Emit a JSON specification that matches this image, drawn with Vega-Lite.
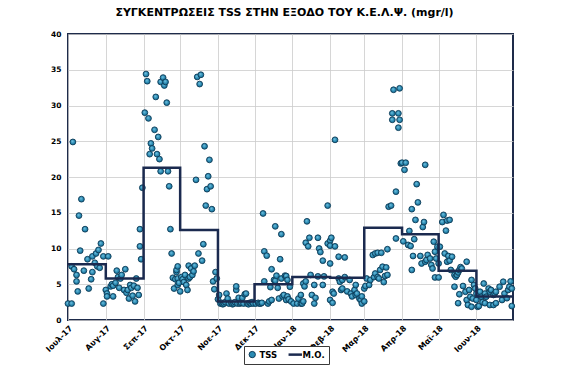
{
  "$schema": "https://vega.github.io/schema/vega-lite/v6.json",
  "width": 445,
  "height": 286,
  "autosize": {"type": "none"},
  "padding": {"left": 68, "top": 34, "right": 53, "bottom": 50},
  "background": "#ffffff",
  "title": {
    "text": "ΣΥΓΚΕΝΤΡΩΣΕΙΣ TSS ΣΤΗΝ ΕΞΟΔΟ ΤΟΥ Κ.Ε.Λ.Ψ. (mgr/l)",
    "font": "DejaVu Sans",
    "fontSize": 11,
    "fontWeight": "bold",
    "color": "#000000",
    "anchor": "middle",
    "offset": 12,
    "dx": -6
  },
  "config": {
    "view": {"stroke": "#1e2b4a", "strokeWidth": 2},
    "axis": {
      "labelFont": "DejaVu Sans",
      "labelFontSize": 7.5,
      "labelFontWeight": "bold",
      "labelColor": "#000000",
      "gridColor": "#cccccc",
      "gridWidth": 0.8,
      "domain": false,
      "ticks": false,
      "title": null
    },
    "legend": {
      "orient": "none",
      "legendX": 176,
      "legendY": 312,
      "direction": "horizontal",
      "strokeColor": "#3a3a3a",
      "fillColor": "#ffffff",
      "padding": 4,
      "labelFont": "DejaVu Sans",
      "labelFontSize": 8.5,
      "labelFontWeight": "bold",
      "labelColor": "#000000",
      "labelOffset": 3,
      "columnPadding": 5
    }
  },
  "datasets": {
    "tss": [
      {"date": "2017-07-01", "tss": 2.3}, {"date": "2017-07-04", "tss": 2.3}, {"date": "2017-07-05", "tss": 24.9},
      {"date": "2017-07-04", "tss": 7.5}, {"date": "2017-07-06", "tss": 7.1}, {"date": "2017-07-08", "tss": 6.3},
      {"date": "2017-07-08", "tss": 5.4}, {"date": "2017-07-09", "tss": 4.0}, {"date": "2017-07-10", "tss": 14.6},
      {"date": "2017-07-11", "tss": 9.7}, {"date": "2017-07-12", "tss": 16.9}, {"date": "2017-07-14", "tss": 6.9},
      {"date": "2017-07-15", "tss": 12.7}, {"date": "2017-07-17", "tss": 8.5}, {"date": "2017-07-18", "tss": 4.4},
      {"date": "2017-07-20", "tss": 5.7}, {"date": "2017-07-21", "tss": 6.7}, {"date": "2017-07-21", "tss": 8.9},
      {"date": "2017-07-23", "tss": 8.0}, {"date": "2017-07-24", "tss": 9.3}, {"date": "2017-07-25", "tss": 7.5},
      {"date": "2017-07-26", "tss": 9.8}, {"date": "2017-07-27", "tss": 7.3}, {"date": "2017-07-28", "tss": 10.7},
      {"date": "2017-07-30", "tss": 8.9}, {"date": "2017-07-30", "tss": 2.3},
      {"date": "2017-08-01", "tss": 4.2}, {"date": "2017-08-02", "tss": 3.7}, {"date": "2017-08-02", "tss": 3.3},
      {"date": "2017-08-03", "tss": 8.9}, {"date": "2017-08-05", "tss": 4.7}, {"date": "2017-08-06", "tss": 5.0},
      {"date": "2017-08-07", "tss": 3.3}, {"date": "2017-08-07", "tss": 4.8}, {"date": "2017-08-09", "tss": 5.2},
      {"date": "2017-08-10", "tss": 6.9}, {"date": "2017-08-11", "tss": 6.0}, {"date": "2017-08-12", "tss": 4.5},
      {"date": "2017-08-13", "tss": 5.8}, {"date": "2017-08-14", "tss": 6.3}, {"date": "2017-08-16", "tss": 4.2},
      {"date": "2017-08-17", "tss": 7.1}, {"date": "2017-08-18", "tss": 3.8}, {"date": "2017-08-19", "tss": 4.2},
      {"date": "2017-08-20", "tss": 3.0}, {"date": "2017-08-21", "tss": 4.9}, {"date": "2017-08-22", "tss": 4.5},
      {"date": "2017-08-23", "tss": 3.4}, {"date": "2017-08-24", "tss": 4.8}, {"date": "2017-08-25", "tss": 2.6},
      {"date": "2017-08-26", "tss": 5.8}, {"date": "2017-08-27", "tss": 4.5}, {"date": "2017-08-28", "tss": 3.5},
      {"date": "2017-08-29", "tss": 10.3}, {"date": "2017-08-29", "tss": 12.7}, {"date": "2017-08-30", "tss": 8.5},
      {"date": "2017-08-31", "tss": 18.5},
      {"date": "2017-09-02", "tss": 29.0}, {"date": "2017-09-03", "tss": 34.4}, {"date": "2017-09-04", "tss": 33.4},
      {"date": "2017-09-05", "tss": 28.2}, {"date": "2017-09-06", "tss": 23.2}, {"date": "2017-09-07", "tss": 24.7},
      {"date": "2017-09-08", "tss": 24.0}, {"date": "2017-09-10", "tss": 26.6}, {"date": "2017-09-11", "tss": 31.2},
      {"date": "2017-09-12", "tss": 23.2}, {"date": "2017-09-13", "tss": 25.6}, {"date": "2017-09-14", "tss": 22.5},
      {"date": "2017-09-15", "tss": 20.8}, {"date": "2017-09-15", "tss": 33.3}, {"date": "2017-09-17", "tss": 33.9},
      {"date": "2017-09-18", "tss": 32.8}, {"date": "2017-09-19", "tss": 33.3}, {"date": "2017-09-20", "tss": 30.4},
      {"date": "2017-09-21", "tss": 20.8}, {"date": "2017-09-22", "tss": 18.7}, {"date": "2017-09-23", "tss": 12.7},
      {"date": "2017-09-24", "tss": 9.3}, {"date": "2017-09-25", "tss": 5.9}, {"date": "2017-09-26", "tss": 4.4},
      {"date": "2017-09-27", "tss": 5.7}, {"date": "2017-09-28", "tss": 6.7}, {"date": "2017-09-28", "tss": 7.0},
      {"date": "2017-09-29", "tss": 7.5}, {"date": "2017-09-29", "tss": 4.9}, {"date": "2017-09-29", "tss": 5.8},
      {"date": "2017-09-30", "tss": 5.2},
      {"date": "2017-10-01", "tss": 4.0}, {"date": "2017-10-02", "tss": 6.0}, {"date": "2017-10-03", "tss": 5.7},
      {"date": "2017-10-04", "tss": 5.3}, {"date": "2017-10-05", "tss": 6.3}, {"date": "2017-10-06", "tss": 4.9},
      {"date": "2017-10-07", "tss": 4.2}, {"date": "2017-10-08", "tss": 5.8}, {"date": "2017-10-08", "tss": 7.6},
      {"date": "2017-10-09", "tss": 6.0}, {"date": "2017-10-10", "tss": 7.2}, {"date": "2017-10-11", "tss": 6.3},
      {"date": "2017-10-12", "tss": 6.8}, {"date": "2017-10-13", "tss": 7.6}, {"date": "2017-10-14", "tss": 19.6},
      {"date": "2017-10-15", "tss": 34.0}, {"date": "2017-10-16", "tss": 9.3}, {"date": "2017-10-17", "tss": 33.0},
      {"date": "2017-10-18", "tss": 34.3}, {"date": "2017-10-19", "tss": 8.3}, {"date": "2017-10-20", "tss": 10.6},
      {"date": "2017-10-21", "tss": 24.3}, {"date": "2017-10-22", "tss": 16.0}, {"date": "2017-10-23", "tss": 18.3},
      {"date": "2017-10-24", "tss": 20.1}, {"date": "2017-10-25", "tss": 22.4}, {"date": "2017-10-26", "tss": 18.7},
      {"date": "2017-10-27", "tss": 15.5}, {"date": "2017-10-28", "tss": 5.4}, {"date": "2017-10-29", "tss": 4.3},
      {"date": "2017-10-30", "tss": 6.7}, {"date": "2017-10-31", "tss": 5.8},
      {"date": "2017-11-01", "tss": 2.9}, {"date": "2017-11-02", "tss": 3.5}, {"date": "2017-11-03", "tss": 2.3},
      {"date": "2017-11-04", "tss": 2.4}, {"date": "2017-11-05", "tss": 2.2}, {"date": "2017-11-06", "tss": 2.3},
      {"date": "2017-11-07", "tss": 2.5}, {"date": "2017-11-08", "tss": 3.7}, {"date": "2017-11-09", "tss": 3.0},
      {"date": "2017-11-10", "tss": 2.3}, {"date": "2017-11-12", "tss": 2.4}, {"date": "2017-11-13", "tss": 2.2},
      {"date": "2017-11-14", "tss": 2.3}, {"date": "2017-11-15", "tss": 2.5}, {"date": "2017-11-16", "tss": 4.2},
      {"date": "2017-11-16", "tss": 4.7}, {"date": "2017-11-17", "tss": 2.3}, {"date": "2017-11-18", "tss": 3.1},
      {"date": "2017-11-19", "tss": 2.3}, {"date": "2017-11-20", "tss": 2.4}, {"date": "2017-11-21", "tss": 3.1},
      {"date": "2017-11-22", "tss": 2.3}, {"date": "2017-11-23", "tss": 3.6}, {"date": "2017-11-24", "tss": 3.7},
      {"date": "2017-11-25", "tss": 2.3}, {"date": "2017-11-26", "tss": 2.2}, {"date": "2017-11-27", "tss": 2.4},
      {"date": "2017-11-28", "tss": 2.3}, {"date": "2017-11-29", "tss": 2.5}, {"date": "2017-11-30", "tss": 2.3},
      {"date": "2017-12-02", "tss": 2.3}, {"date": "2017-12-04", "tss": 2.4}, {"date": "2017-12-05", "tss": 2.3},
      {"date": "2017-12-06", "tss": 2.3}, {"date": "2017-12-07", "tss": 2.4}, {"date": "2017-12-08", "tss": 14.9},
      {"date": "2017-12-09", "tss": 9.6}, {"date": "2017-12-09", "tss": 5.4}, {"date": "2017-12-11", "tss": 9.0},
      {"date": "2017-12-12", "tss": 2.3}, {"date": "2017-12-13", "tss": 2.6}, {"date": "2017-12-14", "tss": 4.6},
      {"date": "2017-12-15", "tss": 7.1}, {"date": "2017-12-15", "tss": 2.8}, {"date": "2017-12-17", "tss": 5.6},
      {"date": "2017-12-18", "tss": 13.1}, {"date": "2017-12-18", "tss": 5.5}, {"date": "2017-12-19", "tss": 6.2},
      {"date": "2017-12-20", "tss": 4.5}, {"date": "2017-12-21", "tss": 3.0}, {"date": "2017-12-22", "tss": 8.5},
      {"date": "2017-12-23", "tss": 12.0}, {"date": "2017-12-23", "tss": 5.8}, {"date": "2017-12-24", "tss": 3.3},
      {"date": "2017-12-25", "tss": 3.5}, {"date": "2017-12-26", "tss": 6.2}, {"date": "2017-12-27", "tss": 2.8},
      {"date": "2017-12-27", "tss": 6.15}, {"date": "2017-12-28", "tss": 5.6}, {"date": "2017-12-28", "tss": 3.3},
      {"date": "2017-12-29", "tss": 2.9}, {"date": "2017-12-30", "tss": 4.65}, {"date": "2017-12-31", "tss": 2.6},
      {"date": "2018-01-02", "tss": 2.3}, {"date": "2018-01-05", "tss": 2.3}, {"date": "2018-01-06", "tss": 3.0},
      {"date": "2018-01-08", "tss": 2.3}, {"date": "2018-01-08", "tss": 3.5}, {"date": "2018-01-09", "tss": 2.3},
      {"date": "2018-01-10", "tss": 2.6}, {"date": "2018-01-10", "tss": 5.1}, {"date": "2018-01-11", "tss": 4.7},
      {"date": "2018-01-12", "tss": 5.4}, {"date": "2018-01-12", "tss": 10.8}, {"date": "2018-01-13", "tss": 13.8},
      {"date": "2018-01-14", "tss": 10.3}, {"date": "2018-01-15", "tss": 11.5}, {"date": "2018-01-16", "tss": 6.3},
      {"date": "2018-01-17", "tss": 3.5}, {"date": "2018-01-19", "tss": 2.3}, {"date": "2018-01-19", "tss": 4.9},
      {"date": "2018-01-20", "tss": 3.1}, {"date": "2018-01-22", "tss": 6.1}, {"date": "2018-01-22", "tss": 11.5},
      {"date": "2018-01-23", "tss": 10.0}, {"date": "2018-01-24", "tss": 9.5}, {"date": "2018-01-26", "tss": 8.3},
      {"date": "2018-01-26", "tss": 4.9}, {"date": "2018-01-27", "tss": 6.1}, {"date": "2018-01-30", "tss": 16.0},
      {"date": "2018-01-30", "tss": 10.7},
      {"date": "2018-02-01", "tss": 7.9}, {"date": "2018-02-01", "tss": 11.1}, {"date": "2018-02-01", "tss": 10.4},
      {"date": "2018-02-01", "tss": 2.8}, {"date": "2018-02-02", "tss": 11.5}, {"date": "2018-02-03", "tss": 3.95},
      {"date": "2018-02-03", "tss": 2.4}, {"date": "2018-02-04", "tss": 3.7}, {"date": "2018-02-05", "tss": 25.2},
      {"date": "2018-02-05", "tss": 10.3}, {"date": "2018-02-08", "tss": 8.85}, {"date": "2018-02-08", "tss": 5.8},
      {"date": "2018-02-09", "tss": 5.35}, {"date": "2018-02-10", "tss": 4.2}, {"date": "2018-02-11", "tss": 5.6},
      {"date": "2018-02-11", "tss": 4.4}, {"date": "2018-02-13", "tss": 8.75}, {"date": "2018-02-13", "tss": 6.0},
      {"date": "2018-02-15", "tss": 4.0}, {"date": "2018-02-17", "tss": 5.6}, {"date": "2018-02-18", "tss": 3.7},
      {"date": "2018-02-19", "tss": 3.3}, {"date": "2018-02-21", "tss": 4.2}, {"date": "2018-02-22", "tss": 3.5},
      {"date": "2018-02-22", "tss": 4.9}, {"date": "2018-02-23", "tss": 3.7}, {"date": "2018-02-25", "tss": 3.0},
      {"date": "2018-02-26", "tss": 2.8}, {"date": "2018-02-27", "tss": 3.3}, {"date": "2018-02-27", "tss": 2.3},
      {"date": "2018-03-01", "tss": 2.6}, {"date": "2018-03-01", "tss": 4.4}, {"date": "2018-03-02", "tss": 4.75},
      {"date": "2018-03-03", "tss": 5.8}, {"date": "2018-03-05", "tss": 4.9}, {"date": "2018-03-06", "tss": 5.6},
      {"date": "2018-03-08", "tss": 9.1}, {"date": "2018-03-09", "tss": 6.0}, {"date": "2018-03-10", "tss": 6.5},
      {"date": "2018-03-10", "tss": 9.3}, {"date": "2018-03-12", "tss": 6.0}, {"date": "2018-03-12", "tss": 9.4},
      {"date": "2018-03-13", "tss": 5.8}, {"date": "2018-03-14", "tss": 7.0}, {"date": "2018-03-15", "tss": 9.4},
      {"date": "2018-03-16", "tss": 7.45}, {"date": "2018-03-17", "tss": 5.3}, {"date": "2018-03-18", "tss": 6.15},
      {"date": "2018-03-19", "tss": 7.35}, {"date": "2018-03-20", "tss": 6.3}, {"date": "2018-03-20", "tss": 9.9},
      {"date": "2018-03-21", "tss": 15.85}, {"date": "2018-03-23", "tss": 16.0}, {"date": "2018-03-24", "tss": 28.9},
      {"date": "2018-03-24", "tss": 28.0}, {"date": "2018-03-25", "tss": 32.2}, {"date": "2018-03-27", "tss": 17.95},
      {"date": "2018-03-27", "tss": 11.4}, {"date": "2018-03-29", "tss": 28.9}, {"date": "2018-03-29", "tss": 26.9},
      {"date": "2018-03-30", "tss": 32.4}, {"date": "2018-03-30", "tss": 28.0}, {"date": "2018-03-31", "tss": 21.9},
      {"date": "2018-04-01", "tss": 22.0}, {"date": "2018-04-02", "tss": 11.0}, {"date": "2018-04-03", "tss": 21.0},
      {"date": "2018-04-04", "tss": 22.0}, {"date": "2018-04-06", "tss": 10.5}, {"date": "2018-04-07", "tss": 12.45},
      {"date": "2018-04-08", "tss": 10.35}, {"date": "2018-04-09", "tss": 15.5}, {"date": "2018-04-09", "tss": 7.0},
      {"date": "2018-04-10", "tss": 8.95}, {"date": "2018-04-11", "tss": 11.3}, {"date": "2018-04-12", "tss": 14.0},
      {"date": "2018-04-13", "tss": 19.0}, {"date": "2018-04-14", "tss": 16.45}, {"date": "2018-04-16", "tss": 8.95},
      {"date": "2018-04-17", "tss": 7.9}, {"date": "2018-04-18", "tss": 13.0}, {"date": "2018-04-19", "tss": 13.7},
      {"date": "2018-04-20", "tss": 21.7}, {"date": "2018-04-20", "tss": 8.15}, {"date": "2018-04-21", "tss": 8.4},
      {"date": "2018-04-22", "tss": 9.1}, {"date": "2018-04-24", "tss": 8.6}, {"date": "2018-04-25", "tss": 7.7},
      {"date": "2018-04-26", "tss": 7.2}, {"date": "2018-04-27", "tss": 10.95}, {"date": "2018-04-28", "tss": 9.55},
      {"date": "2018-04-28", "tss": 5.95}, {"date": "2018-04-29", "tss": 8.6}, {"date": "2018-04-30", "tss": 10.25},
      {"date": "2018-05-01", "tss": 7.9}, {"date": "2018-05-01", "tss": 5.95}, {"date": "2018-05-02", "tss": 10.25},
      {"date": "2018-05-04", "tss": 13.7}, {"date": "2018-05-05", "tss": 14.7}, {"date": "2018-05-06", "tss": 9.3},
      {"date": "2018-05-07", "tss": 12.5}, {"date": "2018-05-08", "tss": 13.9}, {"date": "2018-05-08", "tss": 8.15},
      {"date": "2018-05-09", "tss": 8.95}, {"date": "2018-05-10", "tss": 14.0}, {"date": "2018-05-10", "tss": 8.3},
      {"date": "2018-05-11", "tss": 7.0}, {"date": "2018-05-12", "tss": 8.85}, {"date": "2018-05-14", "tss": 6.3},
      {"date": "2018-05-14", "tss": 4.65}, {"date": "2018-05-15", "tss": 6.05}, {"date": "2018-05-16", "tss": 6.3},
      {"date": "2018-05-17", "tss": 6.65}, {"date": "2018-05-17", "tss": 2.35}, {"date": "2018-05-18", "tss": 7.0},
      {"date": "2018-05-18", "tss": 3.6}, {"date": "2018-05-19", "tss": 7.4}, {"date": "2018-05-20", "tss": 7.2},
      {"date": "2018-05-21", "tss": 4.75}, {"date": "2018-05-23", "tss": 3.95}, {"date": "2018-05-24", "tss": 8.15},
      {"date": "2018-05-24", "tss": 2.8}, {"date": "2018-05-25", "tss": 2.1}, {"date": "2018-05-26", "tss": 4.2},
      {"date": "2018-05-27", "tss": 3.25}, {"date": "2018-05-28", "tss": 5.6}, {"date": "2018-05-28", "tss": 1.85},
      {"date": "2018-05-29", "tss": 3.0}, {"date": "2018-05-30", "tss": 4.9}, {"date": "2018-05-31", "tss": 4.4},
      {"date": "2018-06-01", "tss": 3.7}, {"date": "2018-06-01", "tss": 2.8}, {"date": "2018-06-02", "tss": 1.85},
      {"date": "2018-06-03", "tss": 1.95}, {"date": "2018-06-04", "tss": 3.95}, {"date": "2018-06-05", "tss": 3.25},
      {"date": "2018-06-06", "tss": 2.5}, {"date": "2018-06-07", "tss": 5.1}, {"date": "2018-06-08", "tss": 3.7},
      {"date": "2018-06-08", "tss": 2.35}, {"date": "2018-06-09", "tss": 3.25}, {"date": "2018-06-11", "tss": 4.4},
      {"date": "2018-06-12", "tss": 3.95}, {"date": "2018-06-12", "tss": 2.1}, {"date": "2018-06-13", "tss": 4.2},
      {"date": "2018-06-15", "tss": 3.5}, {"date": "2018-06-15", "tss": 2.1}, {"date": "2018-06-16", "tss": 3.7},
      {"date": "2018-06-17", "tss": 3.95}, {"date": "2018-06-17", "tss": 2.35}, {"date": "2018-06-20", "tss": 4.65},
      {"date": "2018-06-22", "tss": 2.8}, {"date": "2018-06-23", "tss": 5.35}, {"date": "2018-06-24", "tss": 3.7},
      {"date": "2018-06-26", "tss": 3.05}, {"date": "2018-06-27", "tss": 4.2}, {"date": "2018-06-28", "tss": 4.65},
      {"date": "2018-06-29", "tss": 5.4}, {"date": "2018-06-30", "tss": 4.4}, {"date": "2018-06-30", "tss": 1.95}
    ],
    "mo": [
      {"date": "2017-07-01", "mo": 7.8}, {"date": "2017-08-01", "mo": 5.8}, {"date": "2017-09-01", "mo": 21.3},
      {"date": "2017-10-01", "mo": 12.6}, {"date": "2017-11-01", "mo": 2.6}, {"date": "2017-12-01", "mo": 5.0},
      {"date": "2018-01-01", "mo": 6.0}, {"date": "2018-02-01", "mo": 5.9}, {"date": "2018-03-01", "mo": 12.9},
      {"date": "2018-04-01", "mo": 12.0}, {"date": "2018-05-01", "mo": 6.9}, {"date": "2018-06-01", "mo": 3.3},
      {"date": "2018-07-01", "mo": 3.3}
    ]
  },
  "encoding": {
    "x": {
      "field": "date",
      "type": "temporal",
      "scale": {
        "type": "utc",
        "domain": [
          {"year": 2017, "month": 7, "date": 1, "utc": true},
          {"year": 2018, "month": 7, "date": 1, "utc": true}
        ]
      },
      "axis": {
        "values": [
          {"year": 2017, "month": 7, "date": 1, "utc": true},
          {"year": 2017, "month": 8, "date": 1, "utc": true},
          {"year": 2017, "month": 9, "date": 1, "utc": true},
          {"year": 2017, "month": 10, "date": 1, "utc": true},
          {"year": 2017, "month": 11, "date": 1, "utc": true},
          {"year": 2017, "month": 12, "date": 1, "utc": true},
          {"year": 2018, "month": 1, "date": 1, "utc": true},
          {"year": 2018, "month": 2, "date": 1, "utc": true},
          {"year": 2018, "month": 3, "date": 1, "utc": true},
          {"year": 2018, "month": 4, "date": 1, "utc": true},
          {"year": 2018, "month": 5, "date": 1, "utc": true},
          {"year": 2018, "month": 6, "date": 1, "utc": true}
        ],
        "labelExpr": "['Ιαν','Φεβ','Μαρ','Απρ','Μαϊ','Ιουν','Ιουλ','Αυγ','Σεπ','Οκτ','Νοε','Δεκ'][utcmonth(datum.value)] + '-' + utcFormat(datum.value, '%y')",
        "labelAngle": -45,
        "labelAlign": "right",
        "labelBaseline": "middle",
        "labelFontSize": 8,
        "labelPadding": 7,
        "labelOffset": 3,
        "labelOverlap": false,
        "labelFlush": false,
        "grid": true
      }
    },
    "y": {
      "type": "quantitative",
      "scale": {"domain": [0, 40]},
      "axis": {"values": [0, 5, 10, 15, 20, 25, 30, 35, 40], "grid": true, "labelPadding": 7}
    },
    "stroke": {
      "scale": {"domain": ["TSS", "Μ.Ο."], "range": ["#0d3b57", "#1b2a4f"]},
      "legend": {
        "title": null,
        "encode": {
          "symbols": {
            "update": {
              "shape": {"signal": "datum.value === 'TSS' ? 'circle' : 'stroke'"},
              "fill": {"signal": "datum.value === 'TSS' ? '#2a8ab2' : 'transparent'"},
              "stroke": {"signal": "datum.value === 'TSS' ? '#0d3b57' : '#1b2a4f'"},
              "strokeWidth": {"signal": "datum.value === 'TSS' ? 1 : 2.5"},
              "size": {"signal": "datum.value === 'TSS' ? 40 : 180"}
            }
          }
        }
      }
    }
  },
  "layer": [
    {
      "data": {"name": "tss"},
      "mark": {
        "type": "point",
        "filled": true,
        "size": 34,
        "strokeWidth": 0.9,
        "opacity": 1,
        "fill": {
          "gradient": "radial",
          "x1": 0.4, "y1": 0.35, "r1": 0,
          "x2": 0.5, "y2": 0.5, "r2": 0.55,
          "stops": [
            {"offset": 0, "color": "#7cc8e6"},
            {"offset": 0.6, "color": "#2a8ab2"},
            {"offset": 1, "color": "#176a90"}
          ]
        }
      },
      "encoding": {
        "y": {"field": "tss"},
        "stroke": {"datum": "TSS"}
      }
    },
    {
      "data": {"name": "mo"},
      "mark": {"type": "line", "interpolate": "step-after", "strokeWidth": 2.5},
      "encoding": {
        "y": {"field": "mo"},
        "stroke": {"datum": "Μ.Ο."}
      }
    }
  ]
}
